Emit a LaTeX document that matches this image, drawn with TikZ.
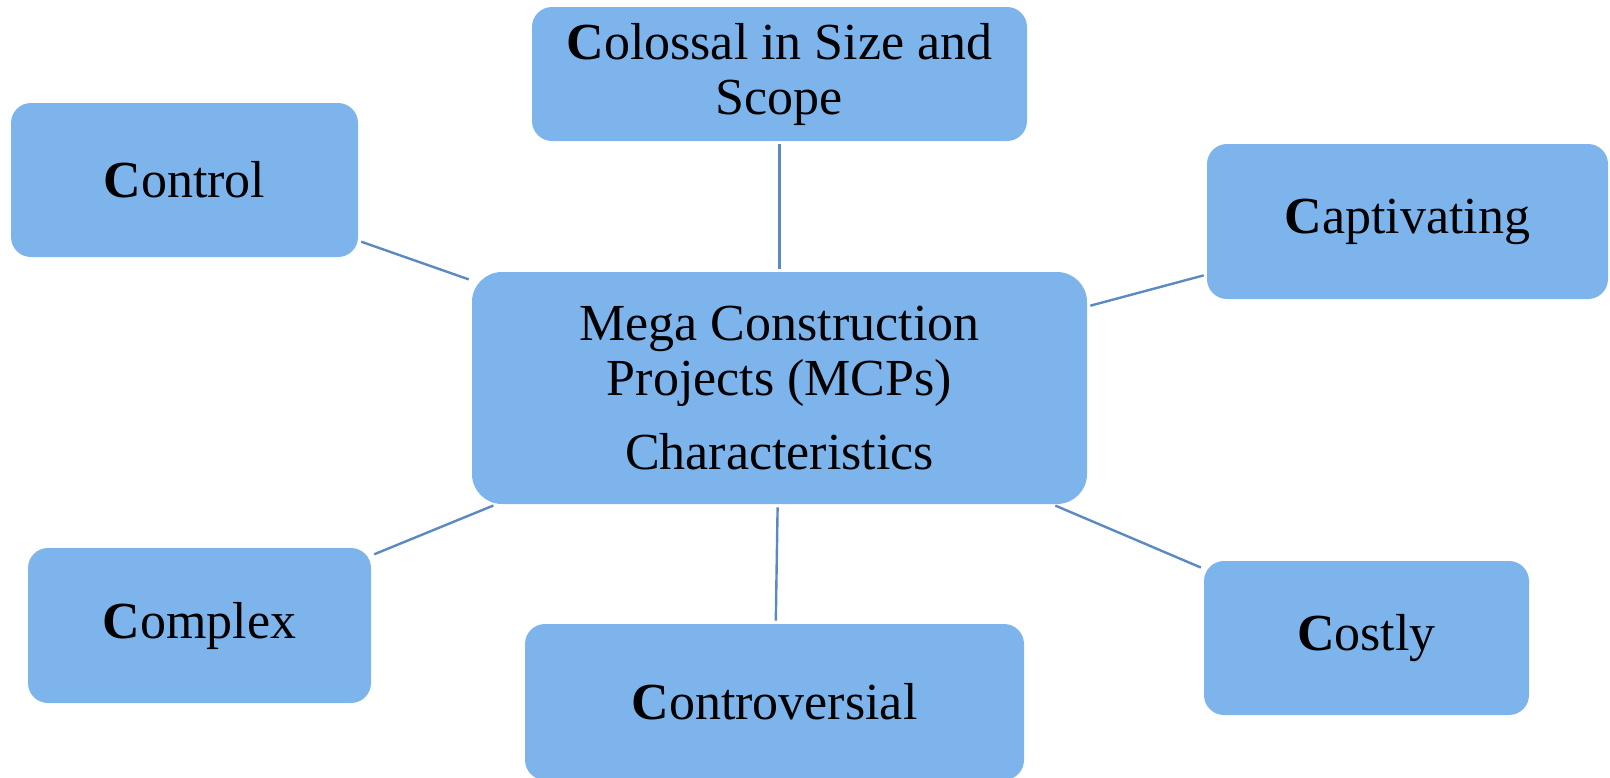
\documentclass[tikz,border=0pt]{standalone}
\usepackage{fontspec}
\setmainfont{Liberation Serif}
\definecolor{boxblue}{HTML}{7DB4EC}
\definecolor{spokeblue}{HTML}{5A8AC0}
\tikzset{
  cbox/.style={draw=none, fill=boxblue, rounded corners=10pt, align=center,
    inner sep=0pt, font=\fontsize{26}{27.5}\selectfont},
  hub/.style={cbox, rounded corners=15pt},
  spoke/.style={draw=spokeblue, line width=1.2pt, shorten <=1.5pt, shorten >=1.5pt}
}

\begin{document}
\begin{tikzpicture}[x=0.5pt, y=-0.5pt]
  \useasboundingbox (0,0) rectangle (1610,777);
  \node[hub, minimum width=307.5pt, minimum height=116pt] (MCP) at (779.5,388)
    {Mega Construction\\Projects (MCPs)\\[9.5pt]Characteristics};
  \node[cbox, minimum width=247.5pt, minimum height=67pt] (Colossal) at (779.5,74)
    {\textbf{C}olossal in Size and\\Scope};
  \node[cbox, minimum width=173.5pt, minimum height=77pt] (Control) at (184.5,180)
    {\textbf{C}ontrol};
  \node[cbox, minimum width=200.5pt, minimum height=77.5pt] (Captivating) at (1407.5,221.5)
    {\textbf{C}aptivating};
  \node[cbox, minimum width=171.5pt, minimum height=77.5pt] (Complex) at (199.5,625.5)
    {\textbf{C}omplex};
  \node[cbox, minimum width=249.5pt, minimum height=78pt] (Controversial) at (774.5,702)
    {\textbf{C}ontroversial};
  \node[cbox, minimum width=162.5pt, minimum height=77pt] (Costly) at (1366.5,638)
    {\textbf{C}ostly};
  \draw[spoke] (MCP) -- (Colossal);
  \draw[spoke] (MCP) -- (Control);
  \draw[spoke] (MCP) -- (Captivating);
  \draw[spoke] (MCP) -- (Complex);
  \draw[spoke] (MCP) -- (Controversial);
  \draw[spoke] (MCP) -- (Costly);
\end{tikzpicture}
\end{document}
